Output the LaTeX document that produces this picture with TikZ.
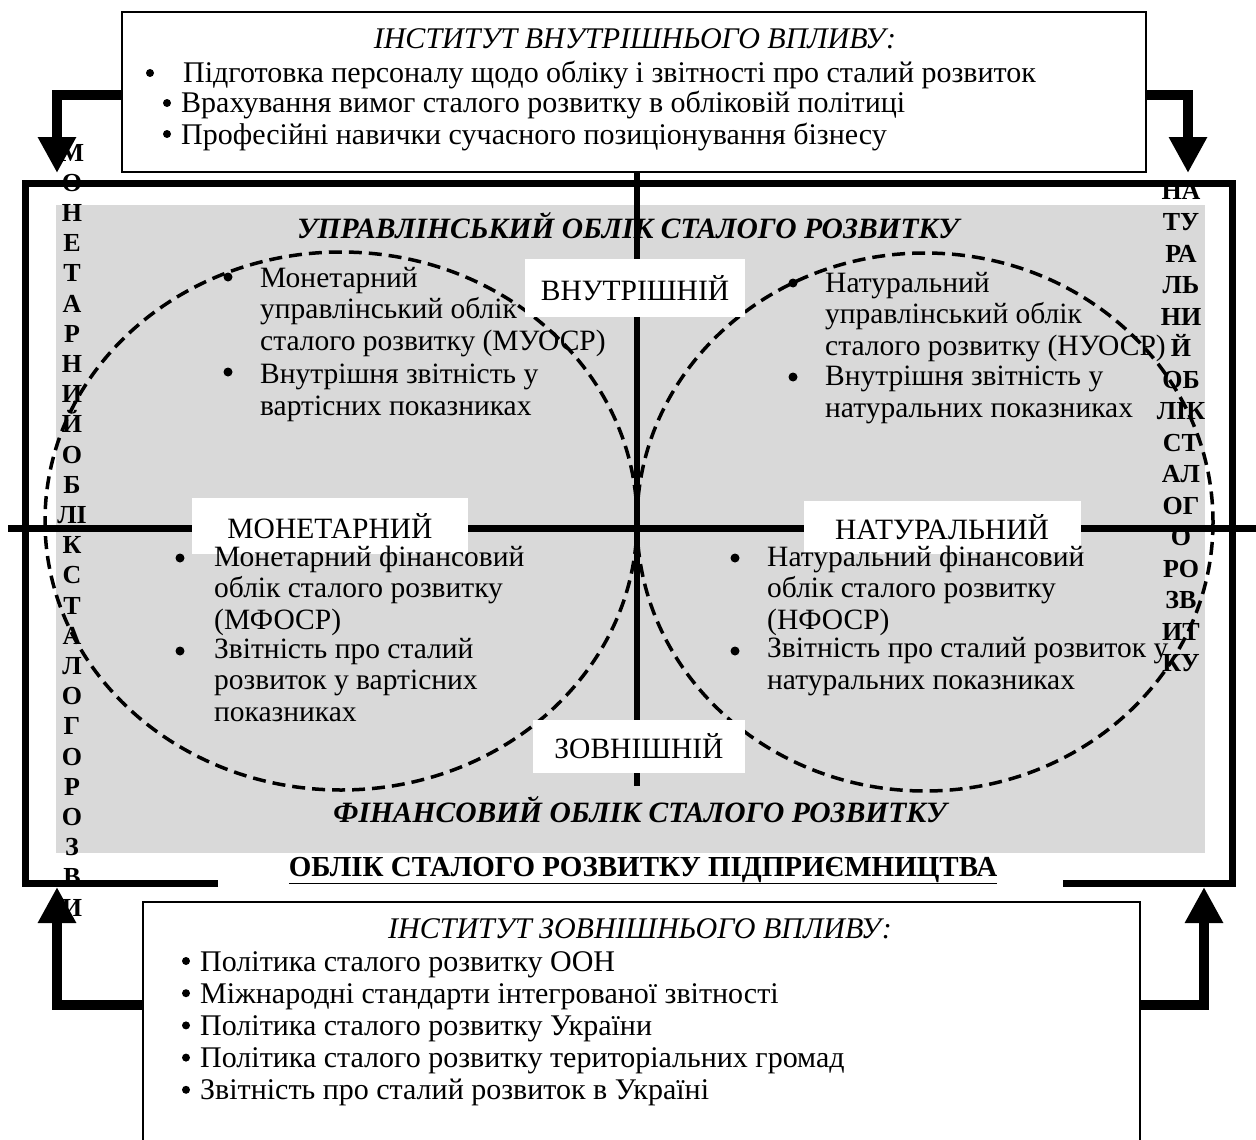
\documentclass[tikz,border=0pt]{standalone}
\usepackage{fontspec}
\setmainfont{Liberation Serif}
\usetikzlibrary{arrows.meta}
\begin{document}
\begin{tikzpicture}[x=1pt,y=-1pt,
  body/.style={font=\fontsize{29.5}{31.5}\selectfont, inner sep=0pt, align=left, anchor=base west},
  boxtext/.style={font=\fontsize{30}{30}\selectfont, inner sep=0pt, anchor=base west},
  bul/.style={circle, fill=black, inner sep=0pt, minimum size=9pt},
  sbul/.style={circle, fill=black, inner sep=0pt, minimum size=8pt},
  lbl/.style={fill=white, inner sep=0pt, font=\fontsize{29.5}{31}\selectfont},
  vlet/.style={font=\fontsize{26}{26}\bfseries\selectfont, inner sep=0pt, anchor=base},
  heading/.style={font=\fontsize{29.5}{31}\bfseries\itshape\selectfont, inner sep=0pt, anchor=base},
  axis line/.style={line width=7pt},
  ovalline/.style={line width=3.5pt, dash pattern=on 13pt off 7pt},
  frameline/.style={line width=7pt, line join=miter},
  thinbox/.style={line width=2.5pt},
  bigarrow/.style={line width=10pt, line join=miter, -{Triangle[width=36pt,length=36pt]}}
]
\useasboundingbox (0,0) rectangle (1256,1140);
% grey field
\fill[black!15] (56,205) rectangle (1205,853);
% vertical letter columns
\foreach \t [count=\i] in {М,О,Н,Е,Т,А,Р,Н,И,Й,О,Б,ЛІ,К,С,Т,А,Л,О,Г,О,Р,О,З,В,И}
  \node[vlet] (lv\i) at (72,{161+30.2*(\i-1)}) {\t};
\foreach \t [count=\i] in {НА,ТУ,РА,ЛЬ,НИ,Й,ОБ,ЛІК,СТ,АЛ,ОГ,О,РО,ЗВ,ИТ,КУ}
  \node[vlet] (rv\i) at (1181,{199+31.5*(\i-1)}) {\t};
% dashed ovals
\draw[ovalline] (341,521) ellipse [x radius=296, y radius=269];
\draw[ovalline] (925,522) ellipse [x radius=288, y radius=269];
% axes
\draw[axis line] (8,528) -- (1256,528);
\draw[line width=6pt] (637,163) -- (637,786);
% axis labels
\node[lbl, minimum width=220pt, minimum height=58pt] (inner) at (635,288) {ВНУТРІШНІЙ};
\node[lbl, minimum width=276pt, minimum height=56pt] (mon) at (330,526) {МОНЕТАРНИЙ};
\node[lbl, minimum width=277pt, minimum height=53pt] (nat) at (942,527) {НАТУРАЛЬНИЙ};
\node[lbl, minimum width=212pt, minimum height=53pt] (outer) at (639,746) {ЗОВНІШНІЙ};
% quadrant texts (anchor = baseline of last line)
\node[bul] (tlb1) at (228,277) {};
\node[body] (tl1) at (260,350) {Монетарний\\управлінський облік\\сталого розвитку (МУОСР)};
\node[bul] (tlb2) at (228,372) {};
\node[body] (tl2) at (260,415) {Внутрішня звітність у\\вартісних показниках};
\node[bul] (trb1) at (793,283) {};
\node[body] (tr1) at (825,355) {Натуральний\\управлінський облік\\сталого розвитку (НУОСР)};
\node[bul] (trb2) at (793,377) {};
\node[body] (tr2) at (825,417) {Внутрішня звітність у\\натуральних показниках};
\node[bul] (blb1) at (180,558) {};
\node[body] (bl1) at (214,629) {Монетарний фінансовий\\облік сталого розвитку\\(МФОСР)};
\node[bul] (blb2) at (180,651) {};
\node[body] (bl2) at (214,721) {Звітність про сталий\\розвиток у вартісних\\показниках};
\node[bul] (brb1) at (735,558) {};
\node[body] (br1) at (767,629) {Натуральний фінансовий\\облік сталого розвитку\\(НФОСР)};
\node[bul] (brb2) at (735,651) {};
\node[body] (br2) at (767,689) {Звітність про сталий розвиток у\\натуральних показниках};
% headings
\node[heading] (mgmt) at (628,238) {УПРАВЛІНСЬКИЙ ОБЛІК СТАЛОГО РОЗВИТКУ};
\node[heading] (fin) at (640,822) {ФІНАНСОВИЙ ОБЛІК СТАЛОГО РОЗВИТКУ};
% main frame
\draw[frameline] (218,883) -- (25,883) -- (25,183) -- (1232,183) -- (1232,883) -- (1063,883);
\node[font=\fontsize{29}{31}\bfseries\selectfont, inner sep=0pt, anchor=base] (ttl) at (643,876) {\underline{ОБЛІК СТАЛОГО РОЗВИТКУ ПІДПРИЄМНИЦТВА}};
% top box
\node[draw, thinbox, fill=white, minimum width=1024pt, minimum height=160pt, inner sep=0pt] (tb) at (634,92) {};
\node[font=\fontsize{30}{30}\itshape\selectfont, inner sep=0pt, anchor=base] (tbt) at (635,49) {ІНСТИТУТ ВНУТРІШНЬОГО ВПЛИВУ:};
\node[sbul] (tbb1) at (150,73) {};
\node[boxtext] (tbl1) at (183,82) {Підготовка персоналу щодо обліку і звітності про сталий розвиток};
\node[sbul] (tbb2) at (167,103) {};
\node[boxtext] (tbl2) at (181,112) {Врахування вимог сталого розвитку в обліковій політиці};
\node[sbul] (tbb3) at (167,134) {};
\node[boxtext] (tbl3) at (181,144) {Професійні навички сучасного позиціонування бізнесу};
% bottom box
\node[inner sep=0pt, minimum width=997pt, minimum height=238pt] (bb) at (641.5,1021) {};
\draw[thinbox] (bb.south west) |- (bb.north east) -- (bb.south east);
\node[font=\fontsize{30}{30}\itshape\selectfont, inner sep=0pt, anchor=base] (bbt) at (640,938) {ІНСТИТУТ ЗОВНІШНЬОГО ВПЛИВУ:};
\foreach \t [count=\i] in {Політика сталого розвитку ООН,Міжнародні стандарти інтегрованої звітності,Політика сталого розвитку України,Політика сталого розвитку територіальних громад,Звітність про сталий розвиток в Україні}{
  \node[sbul] (bbb\i) at (186,{961+32.2*(\i-1)}) {};
  \node[boxtext] (bbl\i) at (200,{971+32.2*(\i-1)}) {\t};
}
% arrows
\coordinate (tlS) at (122,95);
\coordinate (tlT) at (57,173);
\coordinate (trS) at (1146,95);
\coordinate (trT) at (1188,173);
\coordinate (blS) at (143,1005);
\coordinate (blT) at (57,887);
\coordinate (brS) at (1140,1005);
\coordinate (brT) at (1204,887);
\draw[bigarrow] (tlS) -| (tlT);
\draw[bigarrow] (trS) -| (trT);
\draw[bigarrow] (blS) -| (blT);
\draw[bigarrow] (brS) -| (brT);
\end{tikzpicture}
\end{document}
